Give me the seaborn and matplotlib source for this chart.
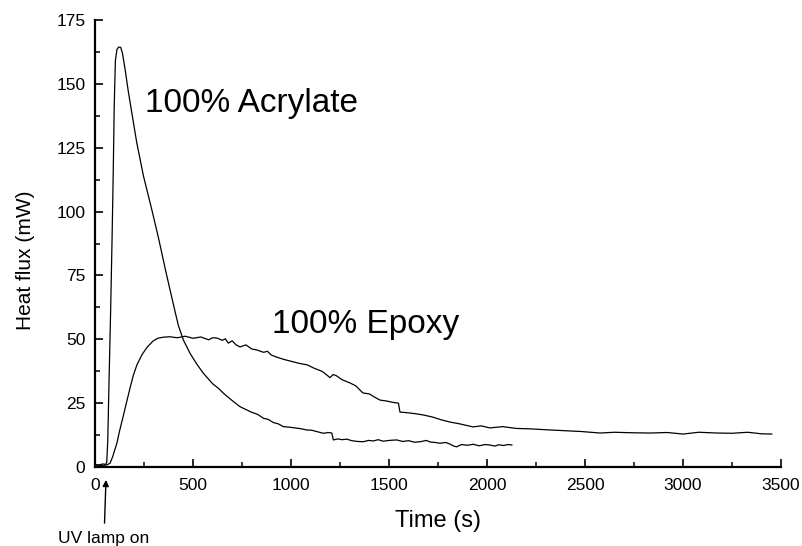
import matplotlib
matplotlib.use("Agg")
import matplotlib.pyplot as plt
import matplotlib.transforms as mtransforms
from matplotlib.ticker import MultipleLocator
import pandas as pd
import seaborn as sns

# Photo-DSC exotherms: heat flux vs. time after the UV lamp is switched on
acrylate_time = [0, 20, 40, 55, 60, 65, 72, 80, 87, 93,
                 98, 104, 112, 121, 131, 140, 153, 170, 187, 213,
                 247, 289, 323, 360, 383, 405, 425, 451, 485, 520,
                 553, 600, 630, 655, 700, 740, 770, 800, 830, 859,
                 885, 910, 935, 961, 990, 1020, 1050, 1080, 1105, 1130,
                 1165, 1190, 1208, 1216, 1240, 1260, 1285, 1310, 1340, 1369,
                 1395, 1420, 1445, 1470, 1500, 1539, 1570, 1600, 1630, 1660,
                 1690, 1710, 1735, 1760, 1790, 1810, 1830, 1845, 1870, 1900,
                 1930, 1960, 1990, 2015, 2040, 2060, 2085, 2105, 2128]
acrylate_flux = [1.0, 0.8, 1.2, 1.0, 2, 10, 35, 62, 89, 115,
                 141, 159, 163.5, 164.4, 164.3, 162, 156, 147, 139, 127,
                 114, 101, 90, 77, 69.3, 62, 55.5, 49.7, 44.5, 40.2,
                 36.7, 32.6, 30.8, 28.9, 26, 23.6, 22.5, 21.4, 20.6, 19.1,
                 18.6, 17.4, 16.9, 15.8, 15.6, 15.3, 15.0, 14.5, 14.4, 13.9,
                 13.2, 13.5, 13.3, 10.6, 11.0, 10.7, 10.9, 10.3, 10.0, 9.9,
                 10.4, 10.2, 10.7, 10.1, 10.4, 10.6, 10.0, 10.3, 9.7, 9.9,
                 10.4, 9.8, 9.6, 9.3, 9.6, 9.0, 8.2, 7.9, 8.8, 8.5,
                 8.9, 8.3, 8.8, 8.6, 8.2, 8.7, 8.4, 8.8, 8.6]

epoxy_time = [0, 30, 60, 77, 90, 100, 112, 125, 143, 160,
              179, 196, 214, 240, 265, 296, 320, 347, 380, 420,
              460, 500, 540, 580, 600, 622, 650, 665, 680, 700,
              720, 740, 770, 800, 826, 860, 880, 900, 928, 960,
              1000, 1040, 1082, 1120, 1160, 1199, 1215, 1230, 1260, 1301,
              1330, 1367, 1400, 1430, 1454, 1490, 1520, 1548, 1556, 1600,
              1640, 1673, 1720, 1770, 1811, 1860, 1900, 1929, 1970, 2015,
              2080, 2150, 2230, 2321, 2400, 2480, 2577, 2650, 2740, 2832,
              2920, 3000, 3080, 3173, 3250, 3330, 3400, 3454]
epoxy_flux = [0.8, 0.6, 0.8, 1.5, 4, 6.5, 9.4, 14, 19.6, 25,
              31, 36, 40, 44, 46.8, 49.3, 50.4, 50.8, 51, 50.6,
              51.2, 50.4, 50.9, 49.8, 50.6, 50.5, 49.6, 50.2, 48.5, 49.4,
              47.8, 47, 47.8, 46.2, 45.8, 44.9, 45.3, 43.8, 43, 42.2,
              41.4, 40.6, 40, 38.6, 37.4, 35, 36.2, 35.8, 34.2, 32.9,
              31.8, 29, 28.6, 27.2, 26.2, 25.8, 25.3, 25, 21.5, 21.2,
              20.8, 20.4, 19.6, 18.4, 17.6, 16.9, 16.2, 15.7, 16.1, 15.3,
              15.8, 15.1, 14.9, 14.5, 14.2, 13.9, 13.3, 13.6, 13.4, 13.3,
              13.5, 12.9, 13.6, 13.3, 13.2, 13.6, 13.0, 12.9]

x_ticks = [0, 500, 1000, 1500, 2000, 2500, 3000, 3500]
y_ticks = [0, 25, 50, 75, 100, 125, 150, 175]
lamp_on_time = 56

acrylate = pd.DataFrame({"Time (s)": acrylate_time, "Heat flux (mW)": acrylate_flux})
epoxy = pd.DataFrame({"Time (s)": epoxy_time, "Heat flux (mW)": epoxy_flux})

sns.set_style("white")
plt.rcParams["font.family"] = ["Liberation Sans", "DejaVu Sans"]
plt.rcParams["text.color"] = "black"
plt.rcParams["axes.labelcolor"] = "black"

fig = plt.figure(figsize=(8.03, 5.46), dpi=100)
ax = fig.add_axes([95 / 803, 1 - 467 / 546, 686 / 803, 447 / 546])

sns.lineplot(data=acrylate, x="Time (s)", y="Heat flux (mW)", ax=ax,
             color="black", lw=0.9, estimator=None, sort=False)
sns.lineplot(data=epoxy, x="Time (s)", y="Heat flux (mW)", ax=ax,
             color="black", lw=0.9, estimator=None, sort=False)

ax.set_xlim(0, 3500)
ax.set_ylim(0, 175)
ax.set_xticks(x_ticks)
ax.set_yticks(y_ticks)
ax.xaxis.set_minor_locator(MultipleLocator(250))
ax.yaxis.set_minor_locator(MultipleLocator(12.5))

for side in ("top", "right"):
    ax.spines[side].set_visible(False)
for side in ("left", "bottom"):
    ax.spines[side].set_color("black")
    ax.spines[side].set_linewidth(1.6)

ax.tick_params(axis="both", which="both", bottom=True, left=True,
               top=False, right=False)
ax.tick_params(axis="both", which="major", direction="in", length=5.5,
               width=1.2, color="black", labelsize=12.5, labelcolor="black")
ax.tick_params(axis="both", which="minor", direction="in", length=3.5,
               width=1.1, color="black")
ax.tick_params(axis="x", which="major", pad=8)
ax.tick_params(axis="y", which="major", pad=7)

ax.set_xlabel("Time (s)", fontsize=17, va="center")
ax.xaxis.set_label_coords(0.5, -0.1205)
ax.set_ylabel("Heat flux (mW)", fontsize=15, va="center")
ax.yaxis.set_label_coords(-0.102, 0.463)

ax.text(255, 139, "100% Acrylate", fontsize=24, ha="left", va="baseline")
ax.text(903, 52.5, "100% Epoxy", fontsize=24, ha="left", va="baseline")

blend = mtransforms.blended_transform_factory(ax.transData, ax.transAxes)
ax.annotate("UV lamp on", xy=(lamp_on_time, -0.029), xycoords=blend,
            xytext=(46, -0.159), textcoords=blend, fontsize=12.5,
            ha="center", va="center", annotation_clip=False,
            arrowprops=dict(arrowstyle="-|>", color="black", lw=1.0,
                            mutation_scale=9, shrinkA=3, shrinkB=0))

fig.savefig("out.png", dpi=100, facecolor="white")
